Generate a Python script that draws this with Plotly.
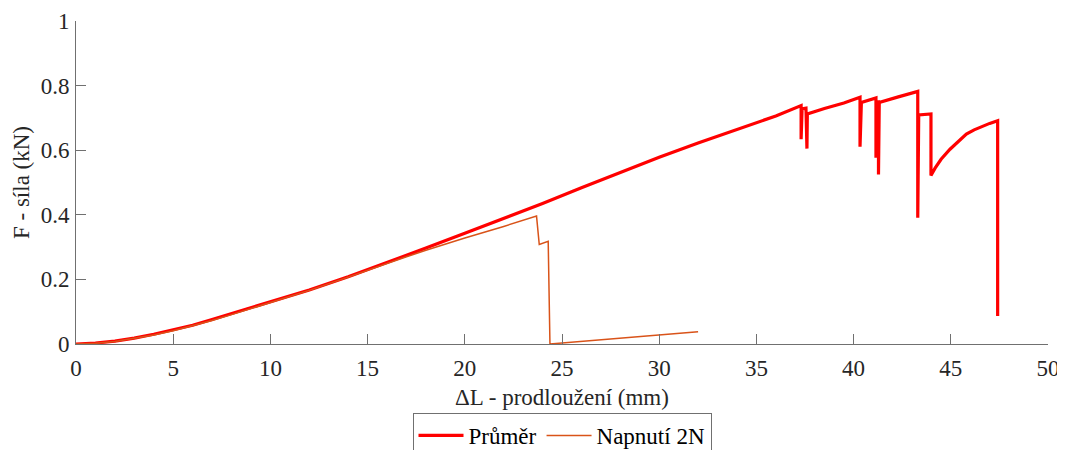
import plotly.graph_objects as go

# Průměr (average curve)
prumer_x = [0, 1, 2, 3, 4, 5, 6, 7, 8, 9, 10, 12, 14, 16, 18, 20, 22, 24, 26, 28, 30, 32, 34, 36,
            37.3, 37.3, 37.35, 37.55, 37.6, 37.62, 38.5, 39.5, 40.33, 40.33, 40.4, 41.15, 41.15,
            41.2, 41.28, 41.28, 41.32, 42.3, 43.3, 43.3, 43.35, 43.98, 43.98, 44.2, 44.5, 44.96,
            45.4, 45.8, 46.2, 46.67, 47.0, 47.41, 47.41]
prumer_y = [0, 0.003, 0.009, 0.018, 0.03, 0.043, 0.058, 0.076, 0.094, 0.112, 0.13, 0.167, 0.208,
            0.252, 0.297, 0.343, 0.389, 0.435, 0.484, 0.532, 0.578, 0.622, 0.664, 0.706,
            0.738, 0.634, 0.728, 0.730, 0.605, 0.712, 0.729, 0.746, 0.764, 0.611, 0.748, 0.762,
            0.577, 0.750, 0.750, 0.525, 0.748, 0.765, 0.782, 0.391, 0.709, 0.712, 0.522, 0.545,
            0.572, 0.603, 0.628, 0.650, 0.663, 0.675, 0.683, 0.691, 0.087]

# Napnutí 2N
napnuti_x = [0, 1, 2, 3, 4, 5, 6, 7, 8, 9, 10, 12, 14, 16, 17, 18, 19, 20, 22, 23.69, 23.83,
             24.29, 24.38, 25, 26, 28, 30, 32]
napnuti_y = [0, 0.002, 0.008, 0.017, 0.028, 0.041, 0.056, 0.073, 0.091, 0.11, 0.128, 0.166,
             0.207, 0.25, 0.27, 0.29, 0.31, 0.328, 0.364, 0.396, 0.308, 0.318, 0.0, 0.003,
             0.008, 0.018, 0.028, 0.038]

x_ticks = [0, 5, 10, 15, 20, 25, 30, 35, 40, 45, 50]
y_ticks = [0, 0.2, 0.4, 0.6, 0.8, 1]
y_tick_labels = ["0", "0.2", "0.4", "0.6", "0.8", "1"]

FONT = "Liberation Serif, Times New Roman, serif"
FS = 23
AXC = "#707070"
TXT = "#262626"

fig = go.Figure()
fig.add_trace(go.Scatter(x=prumer_x, y=prumer_y, mode="lines", name="Průměr",
                         line=dict(color="#ff0000", width=3.2), cliponaxis=False))
fig.add_trace(go.Scatter(x=napnuti_x, y=napnuti_y, mode="lines", name="Napnutí 2N",
                         line=dict(color="#d95319", width=1.5), cliponaxis=False))

fig.update_layout(
    width=1057, height=442, autosize=False,
    margin=dict(l=68, r=17, t=13, b=106, autoexpand=False),
    paper_bgcolor="white", plot_bgcolor="white",
    font=dict(family=FONT, size=FS, color=TXT),
    showlegend=True,
    legend=dict(orientation="h", x=0.5, xanchor="center", xref="paper",
                y=-0.2136, yanchor="top", yref="paper",
                bgcolor="white", bordercolor=AXC, borderwidth=1,
                font=dict(family=FONT, size=FS, color="#000000"),
                itemwidth=45, tracegroupgap=0),
    xaxis=dict(range=[0, 50], tickvals=x_ticks, ticks="inside", ticklen=10,
               tickcolor=AXC, showline=True, linecolor=AXC, linewidth=1,
               showgrid=False, zeroline=False, mirror=False, automargin=False,
               ticklabelstandoff=3,
               title=dict(text="ΔL - prodloužení (mm)", standoff=9,
                          font=dict(family=FONT, size=FS, color=TXT)),
               tickfont=dict(family=FONT, size=FS, color=TXT)),
    yaxis=dict(range=[0, 1], tickvals=y_ticks, ticktext=y_tick_labels, ticks="inside",
               ticklen=10, tickcolor=AXC, showline=True, linecolor=AXC, linewidth=1,
               showgrid=False, zeroline=False, mirror=False, automargin=False,
               ticklabelstandoff=1,
               title=dict(text="F - síla (kN)", standoff=4,
                          font=dict(family=FONT, size=FS, color=TXT)),
               tickfont=dict(family=FONT, size=FS, color=TXT)),
)

fig.write_html("out.html")
